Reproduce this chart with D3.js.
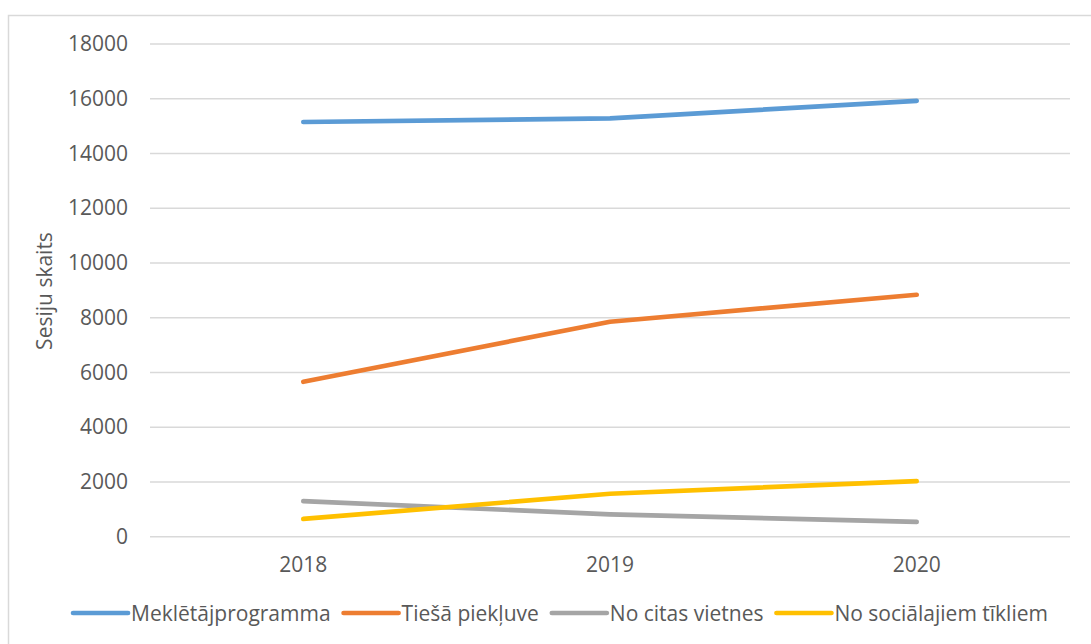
<!DOCTYPE html>
<html>
<head>
<meta charset="utf-8">
<script src="https://cdn.jsdelivr.net/npm/d3@7"></script>
<style>
  body { margin: 0; background: #fff; }
  svg text { font-family: "Open Sans", "Liberation Sans", sans-serif; fill: #595959; }
</style>
</head>
<body>
<div id="svg"></div>
<script>
// datos del gráfico
const gadi = ["2018", "2019", "2020"];
const meklétajprogramma = [15150, 15280, 15925];
const tiesa_piekluve = [5660, 7855, 8840];
const citas_vietnes = [1300, 820, 540];
const socialie_tikli = [650, 1570, 2035];
const y_ticks = [0, 2000, 4000, 6000, 8000, 10000, 12000, 14000, 16000, 18000];

const serijas = [
    { nosaukums: "Meklētājprogramma", vertibas: meklétajprogramma, krasa: "#5B9BD5" },
    { nosaukums: "Tiešā piekļuve", vertibas: tiesa_piekluve, krasa: "#ED7D31" },
    { nosaukums: "No citas vietnes", vertibas: citas_vietnes, krasa: "#A5A5A5" },
    { nosaukums: "No sociālajiem tīkliem", vertibas: socialie_tikli, krasa: "#FFC000" },
];

const width = 1091;
const height = 644;
const margin = { top: 44, bottom: 107.25, left: 150, right: 21 };

const svg = d3.select("#svg")
    .append("svg")
    .attr("width", width)
    .attr("height", height);

// rāmis
svg.append("rect")
    .attr("x", 8.5).attr("y", 15.5)
    .attr("width", width + 10).attr("height", height + 10)
    .attr("fill", "none")
    .attr("stroke", "#d9d9d9")
    .attr("stroke-width", 1.5);

const x = d3.scaleBand()
    .domain(gadi)
    .range([margin.left, width - margin.right])
    .padding(0);

const y = d3.scaleLinear()
    .domain([0, 18000])
    .range([height - margin.bottom, margin.top]);

// režģa līnijas
svg.append("g")
    .selectAll("line")
    .data(y_ticks)
    .join("line")
    .attr("x1", margin.left)
    .attr("x2", width - margin.right)
    .attr("y1", (d) => y(d))
    .attr("y2", (d) => y(d))
    .attr("stroke", "#d9d9d9")
    .attr("stroke-width", 1.3);

// y ass
const yAxis = svg.append("g")
    .attr("transform", `translate(${margin.left - 22},0)`)
    .call(d3.axisLeft(y).tickValues(y_ticks).tickSize(0).tickPadding(0).tickFormat(d3.format("d")));
yAxis.select(".domain").remove();
yAxis.selectAll("text").attr("font-size", 21).style("font-family", null);

// x ass
const xAxis = svg.append("g")
    .attr("transform", `translate(0,${height - margin.bottom})`)
    .call(d3.axisBottom(x).tickSize(0).tickPadding(20));
xAxis.select(".domain").remove();
xAxis.selectAll("text").attr("font-size", 21).style("font-family", null);

// ass nosaukums
svg.append("text")
    .attr("transform", "translate(44,291) rotate(-90)")
    .attr("text-anchor", "middle")
    .attr("dominant-baseline", "central")
    .attr("font-size", 21)
    .text("Sesiju skaits");

// līnijas
const line = d3.line()
    .x((d, i) => x(gadi[i]) + x.bandwidth() / 2)
    .y((d) => y(d));

svg.append("g")
    .selectAll("path")
    .data(serijas)
    .join("path")
    .attr("d", (d) => line(d.vertibas))
    .attr("fill", "none")
    .attr("stroke", (d) => d.krasa)
    .attr("stroke-width", 4.7)
    .attr("stroke-linecap", "round")
    .attr("stroke-linejoin", "round");

// leģenda
const legenda = svg.append("g");
const swatch = 55;
let pos = 0;
serijas.forEach((s) => {
    const g = legenda.append("g").attr("transform", `translate(${pos},0)`);
    g.append("line")
        .attr("x1", 0).attr("x2", swatch)
        .attr("y1", 0).attr("y2", 0)
        .attr("stroke", s.krasa)
        .attr("stroke-width", 4.7)
        .attr("stroke-linecap", "round");
    const t = g.append("text")
        .attr("x", swatch + 3)
        .attr("dominant-baseline", "central")
        .attr("font-size", 21)
        .text(s.nosaukums);
    pos += swatch + 3 + t.node().getComputedTextLength() + 13;
});
pos -= 13;
legenda.attr("transform", `translate(${560.5 - pos / 2},613)`);
</script>
</body>
</html>
